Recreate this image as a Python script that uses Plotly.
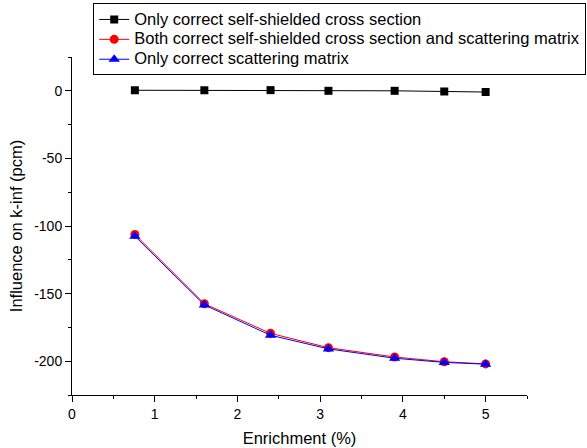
import plotly.graph_objects as go

enrichment = [0.76, 1.6, 2.4, 3.1, 3.9, 4.5, 5.0]
only_xs = [0.4, 0.4, 0.5, 0.0, 0.0, -0.5, -0.9]
both = [-106.2, -157.5, -179.4, -190.0, -196.9, -200.4, -202.0]
only_sm = [-107.5, -158.4, -180.8, -190.9, -197.8, -200.9, -202.2]

y_ticks = [0, -50, -100, -150, -200]
y_ticktext = ["0", "-50", "-100", "-150", "-200"]
x_ticks = [0, 1, 2, 3, 4, 5]

names = ["Only correct self-shielded cross section",
         "Both correct self-shielded cross section and scattering matrix",
         "Only correct scattering matrix"]


def lg(name):
    return '<span style="font-size:16.5px">' + name + '</span>'


fig = go.Figure()
fig.add_trace(go.Scatter(x=enrichment, y=only_xs, name=lg(names[0]), mode="lines+markers",
                         line=dict(color="black", width=1),
                         marker=dict(symbol="square", size=8, color="black")))
fig.add_trace(go.Scatter(x=enrichment, y=both, name=lg(names[1]), mode="lines+markers",
                         line=dict(color="red", width=1),
                         marker=dict(symbol="circle", size=9, color="red")))
fig.add_trace(go.Scatter(x=enrichment, y=only_sm, name=lg(names[2]), mode="lines+markers",
                         line=dict(color="blue", width=1),
                         marker=dict(symbol="triangle-up", size=10, color="blue")))

axis_common = dict(showline=True, linecolor="black", linewidth=1, ticks="outside",
                   ticklen=6, tickcolor="black", showgrid=False, zeroline=False,
                   tickfont=dict(family="Liberation Sans, Arial", size=14, color="black"),
                   mirror=False)

fig.update_layout(
    width=587, height=448,
    margin=dict(l=71.8, r=60.4, t=57, b=53, autoexpand=False),
    paper_bgcolor="white", plot_bgcolor="white",
    font=dict(family="Liberation Sans, Arial", size=14, color="black"),
    xaxis=dict(range=[0, 5.5], tickvals=x_ticks,
               minor=dict(ticks="outside", ticklen=3, tickcolor="black", dtick=0.5, tick0=0),
               title=dict(text="Enrichment (%)", font=dict(size=16.5), standoff=11),
               **axis_common),
    yaxis=dict(range=[-225, 25], tickvals=y_ticks, ticktext=y_ticktext,
               minor=dict(ticks="outside", ticklen=3, tickcolor="black", dtick=25, tick0=0),
               title=dict(text="Influence on k-inf (pcm)", font=dict(size=16.5), standoff=7),
               **axis_common),
    legend=dict(x=0.0466, y=1.1583, xanchor="left", yanchor="top",
                bordercolor="black", borderwidth=1, bgcolor="white",
                font=dict(size=13), tracegroupgap=0, itemwidth=30),
    showlegend=True,
)

fig.write_html("out.html")
